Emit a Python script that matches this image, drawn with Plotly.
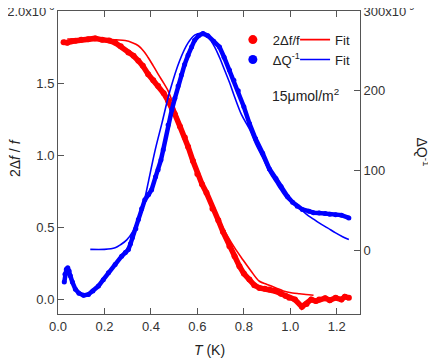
import plotly.graph_objects as go

# 2Δf/f data (units of 1e-6) vs T (K)
t_df = [0.024, 0.04, 0.06, 0.075, 0.10, 0.13, 0.16, 0.19, 0.22, 0.246, 0.27, 0.303,
        0.325, 0.346, 0.365, 0.388, 0.41, 0.431, 0.455, 0.474, 0.49, 0.503, 0.525,
        0.546, 0.56, 0.581, 0.60, 0.62, 0.639, 0.665, 0.69, 0.71, 0.738, 0.76, 0.781,
        0.80, 0.824, 0.845, 0.867, 0.89, 0.91, 0.938, 0.96, 0.98, 0.995, 1.02, 1.05,
        1.07, 1.09, 1.11, 1.124, 1.15, 1.17, 1.195, 1.22, 1.235, 1.252]
df_vals = [1.783, 1.78, 1.79, 1.794, 1.80, 1.805, 1.81, 1.80, 1.795, 1.78, 1.755, 1.713,
           1.69, 1.655, 1.62, 1.5625, 1.52, 1.48, 1.43, 1.377, 1.33, 1.285, 1.20,
           1.123, 1.06, 0.96, 0.87, 0.80, 0.741, 0.63, 0.55, 0.47, 0.37, 0.30, 0.231,
           0.18, 0.139, 0.10, 0.081, 0.075, 0.07, 0.058, 0.04, 0.025, 0.012, 0.0, -0.05,
           -0.03, 0.0, -0.01, 0.0, 0.01, -0.005, 0.012, 0.0, 0.02, 0.012]

t_df_fit = [0.04, 0.10, 0.15, 0.20, 0.25, 0.289, 0.32, 0.346, 0.37, 0.388, 0.41, 0.431,
            0.455, 0.474, 0.49, 0.51, 0.53, 0.55, 0.58, 0.61, 0.64, 0.67, 0.70, 0.73,
            0.76, 0.795, 0.83, 0.867, 0.90, 0.938, 0.97, 1.009, 1.04, 1.067, 1.10]
df_fit = [1.806, 1.806, 1.806, 1.805, 1.80, 1.795, 1.78, 1.759, 1.72, 1.678, 1.62, 1.5625,
          1.50, 1.447, 1.38, 1.29, 1.20, 1.11, 0.97, 0.85, 0.74, 0.63, 0.53, 0.44,
          0.36, 0.278, 0.20, 0.127, 0.105, 0.081, 0.06, 0.046, 0.04, 0.035, 0.03]

# ΔQ^-1 data (units of 1e-9) vs T (K)
t_q = [0.027, 0.03, 0.036, 0.042, 0.048, 0.053, 0.062, 0.075, 0.09, 0.11, 0.131, 0.15,
       0.174, 0.195, 0.217, 0.246, 0.274, 0.29, 0.303, 0.312, 0.32, 0.335, 0.346, 0.36,
       0.374, 0.39, 0.403, 0.42, 0.431, 0.443, 0.453, 0.474, 0.49, 0.503, 0.517, 0.531,
       0.545, 0.56, 0.575, 0.588, 0.605, 0.624, 0.645, 0.67, 0.695, 0.715, 0.738, 0.757,
       0.776, 0.80, 0.824, 0.85, 0.881, 0.91, 0.938, 0.96, 0.988, 1.01, 1.03, 1.052,
       1.08, 1.10, 1.124, 1.15, 1.17, 1.195, 1.22, 1.252]
q_vals = [-40, -30, -24, -22, -26, -32, -40, -49, -54, -56.6, -55.4, -51,
          -45, -37, -28.3, -17.9, -7.5, -3, 0.9, 8, 15.5, 27, 38.4, 52,
          63.4, 70, 75.9, 92, 100.9, 113, 126, 157, 176, 190.5, 206, 219.6,
          233, 244.6, 255, 263.4, 269, 271.7, 269, 262, 255, 242, 226, 213,
          200, 180, 159, 140, 121.75, 102, 90, 80, 67.5, 60, 55, 51,
          49, 47, 46.7, 46, 45, 44.6, 44, 40.5]

t_q_fit = [0.139, 0.20, 0.246, 0.27, 0.296, 0.323, 0.345, 0.367, 0.39, 0.417, 0.448,
           0.481, 0.524, 0.56, 0.59, 0.617, 0.645, 0.674, 0.695, 0.717, 0.74, 0.76,
           0.79, 0.824, 0.85, 0.881, 0.91, 0.938, 0.96, 0.988, 1.01, 1.038, 1.07,
           1.10, 1.124, 1.16, 1.195, 1.225, 1.252]
q_fit = [1, 1, 3, 7, 13, 24, 39, 57, 87, 124, 160,
         199, 238, 260, 270, 272, 268, 255, 242, 226, 209, 192.5,
         170, 152, 134, 116, 98, 85, 75, 64, 59, 53, 45,
         39, 34.2, 28, 21.75, 17, 13.4]

x_ticks = [0, 0.2, 0.4, 0.6, 0.8, 1.0, 1.2]
left_ticks = [0, 0.5, 1.0, 1.5, 2.0]
left_text = ["0.0", "0.5", "1.0", "1.5", "2.0x10<sup>-6</sup>"]
right_ticks = [0, 100, 200, 300]
right_text = ["0", "100", "200", "300x10<sup>-9</sup>"]

RED = "#ff0000"
BLUE = "#0000ff"
FONT = "Liberation Sans, Arial, sans-serif"

fig = go.Figure()

# blue first so the red band sits on top at the crossing
fig.add_trace(go.Scatter(x=t_q, y=q_vals, yaxis="y2", mode="lines+markers",
                         line=dict(color=BLUE, width=4.5), marker=dict(size=5, color=BLUE),
                         showlegend=False))
fig.add_trace(go.Scatter(x=t_q_fit, y=q_fit, yaxis="y2", mode="lines",
                         line=dict(color=BLUE, width=1.6, shape="spline"), showlegend=False))
fig.add_trace(go.Scatter(x=t_df, y=df_vals, mode="lines+markers",
                         line=dict(color=RED, width=5.5), marker=dict(size=6, color=RED),
                         showlegend=False))
fig.add_trace(go.Scatter(x=t_df_fit, y=df_fit, mode="lines",
                         line=dict(color=RED, width=1.6, shape="spline"), showlegend=False))

# legend entries
fig.add_trace(go.Scatter(x=[None], y=[None], mode="markers", name="2Δf/f",
                         marker=dict(color=RED, size=9), legend="legend", legendrank=1))
fig.add_trace(go.Scatter(x=[None], y=[None], mode="markers", name="ΔQ<sup>-1</sup>",
                         marker=dict(color=BLUE, size=9), legend="legend", legendrank=2))
fig.add_trace(go.Scatter(x=[None], y=[None], mode="lines", name="Fit",
                         line=dict(color=RED, width=1.6), legend="legend2", legendrank=1))
fig.add_trace(go.Scatter(x=[None], y=[None], mode="lines", name="Fit",
                         line=dict(color=BLUE, width=1.6), legend="legend2", legendrank=2))

axis_common = dict(showgrid=False, zeroline=False, ticks="inside", ticklen=6,
                   tickcolor="#555", linecolor="#555", linewidth=1, showline=True,
                   ticklabeloverflow="allow", automargin=False,
                   tickfont=dict(size=13, color="#333", family=FONT))

# the page body has an 8px margin, so the figure is 8px smaller and shifted
fig.update_layout(
    width=428, height=353,
    margin=dict(l=50, r=76, t=3, b=47),
    plot_bgcolor="white", paper_bgcolor="white",
    font=dict(family=FONT, size=13, color="#222"),
    xaxis=dict(range=[0, 1.3], tickvals=x_ticks, tickformat=".1f", mirror="ticks",
               **axis_common),
    yaxis=dict(range=[-0.1, 2.0], tickvals=left_ticks, ticktext=left_text, **axis_common),
    yaxis2=dict(range=[-80, 300], tickvals=right_ticks, ticktext=right_text,
                overlaying="y", side="right", **axis_common),
    legend=dict(x=0.579, y=0.955, xanchor="left", yanchor="top", bgcolor="rgba(0,0,0,0)",
                font=dict(size=13, family=FONT), tracegroupgap=0),
    legend2=dict(x=0.785, y=0.955, xanchor="left", yanchor="top", bgcolor="rgba(0,0,0,0)",
                 font=dict(size=13, family=FONT), tracegroupgap=0),
)

fig.add_annotation(text="15μmol/m<sup>2</sup>", xref="paper", yref="paper",
                   x=0.82, y=0.723, xanchor="center", yanchor="middle", showarrow=False,
                   font=dict(size=14, family=FONT))
fig.add_annotation(text="2Δ<i>f</i> / <i>f</i>", xref="paper", yref="paper",
                   x=-0.142, y=0.515, xanchor="center", yanchor="middle", textangle=-90,
                   showarrow=False, font=dict(size=14, family=FONT))
fig.add_annotation(text="ΔQ<sup>-1</sup>", xref="paper", yref="paper",
                   x=1.21, y=0.535, xanchor="center", yanchor="middle", textangle=90,
                   showarrow=False, font=dict(size=14, family=FONT))
fig.add_annotation(text="<i>T</i> (K)", xref="paper", yref="paper",
                   x=0.5, y=-0.119, xanchor="center", yanchor="middle", showarrow=False,
                   font=dict(size=14, family=FONT))

fig.write_html("out.html")
